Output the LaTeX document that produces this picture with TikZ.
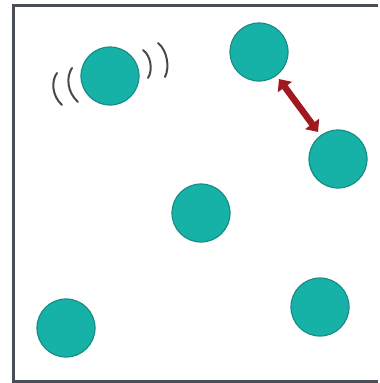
\documentclass[tikz,border=0pt]{standalone}
\usetikzlibrary{arrows.meta}
\definecolor{ballfill}{RGB}{22,178,168}
\definecolor{balledge}{RGB}{26,140,134}
\definecolor{framecol}{RGB}{74,78,87}
\definecolor{wavecol}{RGB}{70,72,78}
\definecolor{arrowred}{RGB}{160,24,32}
\tikzset{
  ball/.style={circle, fill=ballfill, draw=balledge, line width=1.2pt, minimum size=58pt, inner sep=0pt},
  wave/.style={draw=wavecol, line width=2pt, line cap=round},
  bump/.style={draw=arrowred, line width=6.5pt, shorten <=4pt, shorten >=4pt,
    {Triangle[width=17pt,length=10pt]}-{Triangle[width=17pt,length=10pt]}}
}
\begin{document}
\begin{tikzpicture}[x=1pt,y=-1pt]
\useasboundingbox (0,0) rectangle (380,383);
\fill[white] (0,0) rectangle (380,383);
% frame
\draw[framecol, line width=3pt] (378,5.5) -- (13,5.5) -- (13,381) -- (378,381);
% balls
\node[ball] (b1) at (110,76) {};
\node[ball] (b2) at (259,52) {};
\node[ball] (b3) at (338,159) {};
\node[ball] (b4) at (201,213) {};
\node[ball] (b5) at (66,328) {};
\node[ball] (b6) at (320,307) {};
% vibration arcs
\draw[wave] (57,73) .. controls (51,81) and (52,96) .. (62,105);
\draw[wave] (72,68) .. controls (66,77) and (67,92) .. (78,102);
\draw[wave] (143,50) .. controls (151,56) and (153,70) .. (148,78);
\draw[wave] (158,43) .. controls (167,50) and (170,67) .. (165,77);
% collision arrow
\draw[bump] (b2) -- (b3);
\end{tikzpicture}
\end{document}
